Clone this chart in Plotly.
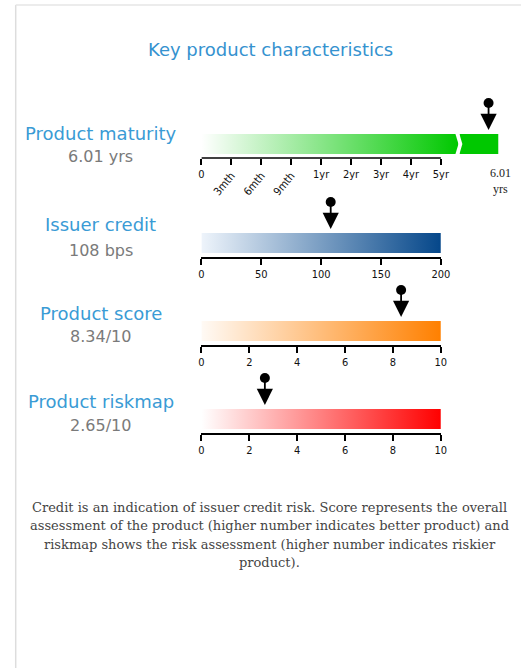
import plotly.graph_objects as go

# ---- data -------------------------------------------------------------
maturity_years = 6.01
maturity_tick_labels = ["0", "3mth", "6mth", "9mth", "1yr", "2yr", "3yr", "4yr", "5yr"]
maturity_flat_ticks = ["0", "1yr", "2yr", "3yr", "4yr", "5yr"]
maturity_slanted_ticks = ["3mth", "6mth", "9mth"]

credit_bps = 108
credit_ticks = [0, 50, 100, 150, 200]

score_value = 8.34
riskmap_value = 2.65
ten_scale_ticks = [0, 2, 4, 6, 8, 10]

row_titles = ["Product maturity", "Issuer credit", "Product score", "Product riskmap"]
row_values = ["6.01 yrs", "108 bps", "8.34/10", "2.65/10"]

footnote_lines = [
    "Credit is an indication of issuer credit risk. Score represents the overall",
    "assessment of the product (higher number indicates better product) and",
    "riskmap shows the risk assessment (higher number indicates riskier",
    "product).",
]

# ---- page geometry helpers (pixels -> paper) -------------------------
W, H = 530, 668
def px(p):
    return p / W
def py(p):
    return 1 - p / H

BLUE = "#3a9bd5"
GREY = "#7a7a7a"
TICK_FONT = dict(family="DejaVu Sans Condensed, Liberation Sans Narrow, Arial", size=11, color="#111")
SERIF = "DejaVu Serif, Liberation Serif, serif"

BAR_X0, BAR_X1 = 203, 448           # pixel extent of the scale axes
ROW_AXIS_PX = [158, 257, 345, 433]  # pixel row of each axis line
ROW_H = 62                          # height of each row panel (1 unit = 1 px)
BAR_LO, BAR_HI = 4, 24              # bar band above the axis line
PIN_TIP, PIN_HEAD = 28, 55          # arrow tip and ball of the pointer

unit = (BAR_X1 - BAR_X0) / (len(maturity_tick_labels) - 1)
main_end_px = 466
mat_range_max = (main_end_px - BAR_X0) / unit
break_idx = mat_range_max - 0.1      # start of the notch on the main segment
tail_lo, tail_hi = 5.6, 6.15         # years shown on the post-break segment
notch_tail = (tail_hi - tail_lo) * 3 / 40

fig = go.Figure()

def gradient_bar(xs, ys, c0, c1, xa, ya):
    fig.add_trace(go.Scatter(
        x=xs, y=ys, mode="lines", fill="toself",
        fillgradient=dict(type="horizontal", colorscale=[[0, c0], [1, c1]]),
        line=dict(width=0, color="rgba(0,0,0,0)"),
        hoverinfo="skip", showlegend=False, xaxis=xa, yaxis=ya))

def pin(x, xa, ya):
    fig.add_trace(go.Scatter(
        x=[x], y=[PIN_HEAD], mode="markers",
        marker=dict(symbol="circle", size=10, color="black"),
        cliponaxis=False, hoverinfo="skip", showlegend=False, xaxis=xa, yaxis=ya))
    fig.add_annotation(
        x=x, y=PIN_TIP, ax=x, ay=PIN_HEAD, xref=xa, yref=ya, axref=xa, ayref=ya,
        text="", showarrow=True, arrowhead=2, arrowsize=1.8, arrowwidth=1.8, arrowcolor="black")

mid = (BAR_LO + BAR_HI) / 2

# maturity: main gradient segment ending in a break notch
gradient_bar([0, 0, break_idx, mat_range_max, break_idx, 0],
             [BAR_LO, BAR_HI, BAR_HI, mid, BAR_LO, BAR_LO],
             "#ffffff", "#00c800", "x", "y")
# invisible companion so the slanted-label axis is drawn
fig.add_trace(go.Scatter(x=[0], y=[0], mode="markers", marker=dict(opacity=0),
                         hoverinfo="skip", showlegend=False, xaxis="x2", yaxis="y"))
# maturity: segment after the break, in years
fig.add_trace(go.Scatter(
    x=[tail_lo, tail_lo + notch_tail, tail_lo, tail_hi, tail_hi, tail_lo],
    y=[BAR_LO, mid, BAR_HI, BAR_HI, BAR_LO, BAR_LO],
    mode="lines", fill="toself", fillcolor="#00c800",
    line=dict(width=0, color="rgba(0,0,0,0)"),
    hoverinfo="skip", showlegend=False, xaxis="x3", yaxis="y"))
pin(maturity_years, "x3", "y")

# issuer credit
gradient_bar([0, 0, 200, 200, 0], [BAR_LO, BAR_HI, BAR_HI, BAR_LO, BAR_LO],
             "#eef4fb", "#05478a", "x4", "y2")
pin(credit_bps, "x4", "y2")

# product score
gradient_bar([0, 0, 10, 10, 0], [BAR_LO, BAR_HI, BAR_HI, BAR_LO, BAR_LO],
             "#fffaf5", "#ff8000", "x5", "y3")
pin(score_value, "x5", "y3")

# product riskmap
gradient_bar([0, 0, 10, 10, 0], [BAR_LO, BAR_HI, BAR_HI, BAR_LO, BAR_LO],
             "#ffffff", "#ff0000", "x6", "y4")
pin(riskmap_value, "x6", "y4")

# ---- axes ------------------------------------------------------------
def ydom(axis_px):
    return [py(axis_px), py(axis_px - ROW_H)]

tick_style = dict(ticks="outside", ticklen=6, tickwidth=1.5, tickcolor="black",
                  tickfont=TICK_FONT, showgrid=False, zeroline=False, fixedrange=True)
yaxis_style = dict(range=[0, ROW_H], visible=False, fixedrange=True)

flat_pos = [maturity_tick_labels.index(t) for t in maturity_flat_ticks]
slant_pos = [maturity_tick_labels.index(t) for t in maturity_slanted_ticks]

fig.update_layout(
    xaxis=dict(domain=[px(BAR_X0), px(main_end_px)], range=[0, mat_range_max], anchor="y",
               tickmode="array", tickvals=flat_pos, ticktext=maturity_flat_ticks,
               tickangle=0, showline=False, **tick_style),
    xaxis2=dict(domain=[px(BAR_X0), px(main_end_px)], range=[0, mat_range_max], anchor="y",
                overlaying="x", side="bottom", tickmode="array", tickvals=slant_pos,
                ticktext=maturity_slanted_ticks, tickangle=-50, showline=False, **tick_style),
    xaxis3=dict(domain=[px(467), px(507)], range=[tail_lo, tail_hi], anchor="y",
                visible=False, fixedrange=True),
    xaxis4=dict(domain=[px(BAR_X0), px(BAR_X1)], range=[0, 200], anchor="y2",
                tickmode="array", tickvals=credit_ticks, showline=True, linecolor="black",
                linewidth=1.5, **tick_style),
    xaxis5=dict(domain=[px(BAR_X0), px(BAR_X1)], range=[0, 10], anchor="y3",
                tickmode="array", tickvals=ten_scale_ticks, showline=True, linecolor="black",
                linewidth=1.5, **tick_style),
    xaxis6=dict(domain=[px(BAR_X0), px(BAR_X1)], range=[0, 10], anchor="y4",
                tickmode="array", tickvals=ten_scale_ticks, showline=True, linecolor="black",
                linewidth=1.5, **tick_style),
    yaxis=dict(domain=ydom(ROW_AXIS_PX[0]), **yaxis_style),
    yaxis2=dict(domain=ydom(ROW_AXIS_PX[1]), **yaxis_style),
    yaxis3=dict(domain=ydom(ROW_AXIS_PX[2]), **yaxis_style),
    yaxis4=dict(domain=ydom(ROW_AXIS_PX[3]), **yaxis_style),
)

# axis line of the maturity scale stops at the last tick before the break
fig.add_shape(type="line", xref="x", yref="paper", x0=0, x1=len(maturity_tick_labels) - 1,
              y0=py(ROW_AXIS_PX[0]), y1=py(ROW_AXIS_PX[0]), line=dict(color="black", width=1.5))

# page frame (left and top rule)
fig.add_shape(type="line", xref="paper", yref="paper", x0=px(13), x1=px(13), y0=py(5), y1=0,
              line=dict(color="#dddddd", width=1.5))
fig.add_shape(type="line", xref="paper", yref="paper", x0=px(13), x1=1, y0=py(5), y1=py(5),
              line=dict(color="#e6e6e6", width=1.5))

# ---- text ------------------------------------------------------------
LABEL_FONT = "DejaVu Sans, Verdana, sans-serif"
def text(x, y, s, size, color, family=LABEL_FONT, **kw):
    fig.add_annotation(x=px(x), y=py(y), xref="paper", yref="paper", text=s, showarrow=False,
                       xanchor="center", yanchor="middle",
                       font=dict(family=family, size=size, color=color), **kw)

text(274, 50, "Key product characteristics", 18, "#3592cf")

title_py = [133, 225, 313, 401]
value_py = [157, 250, 337, 425]
for t, v, ty, vy in zip(row_titles, row_values, title_py, value_py):
    text(100, ty, t, 18, BLUE)
    text(100, vy, v, 16, GREY)

# value written under the end of the broken maturity scale
text(509, 173, f"{maturity_years:.2f}", 12, "#222", family="Liberation Serif, serif")
text(509, 189, "yrs", 12, "#222", family="Liberation Serif, serif")

# explanatory note, one annotation per line
for i, line in enumerate(footnote_lines):
    text(273, 507 + 18.5 * i, line, 13, "#444", family=SERIF)

fig.update_layout(
    width=W, height=H, margin=dict(l=0, r=0, t=0, b=0),
    paper_bgcolor="white", plot_bgcolor="rgba(0,0,0,0)", showlegend=False,
)

fig.write_html("out.html")
